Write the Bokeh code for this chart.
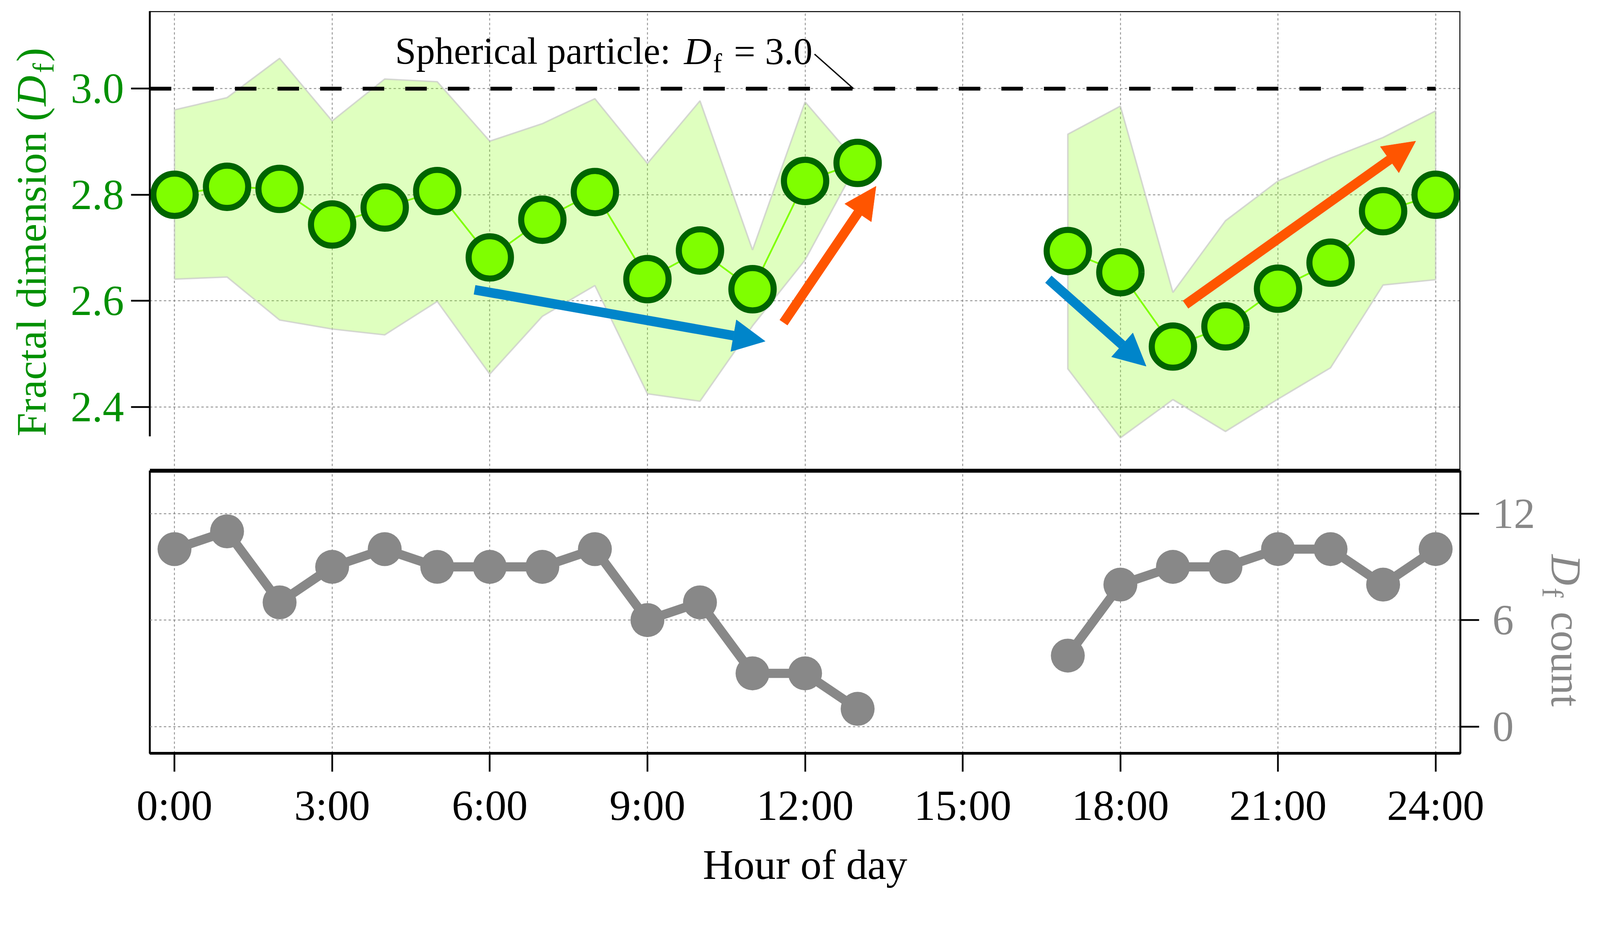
import math
from bokeh.plotting import figure
from bokeh.layouts import column, row
from bokeh.models import (FixedTicker, Grid, Span, Label, Arrow, NormalHead,
                          NumeralTickFormatter, Range1d)
from bokeh.embed import file_html
from bokeh.resources import INLINE

# ---------------- data ----------------
HOURS = [0, 1, 2, 3, 4, 5, 6, 7, 8, 9, 10, 11, 12, 13, 17, 18, 19, 20, 21, 22, 23, 24]
DF_MEAN = [2.800, 2.815, 2.811, 2.744, 2.776, 2.807, 2.682, 2.753, 2.805, 2.641, 2.695,
           2.622, 2.826, 2.860, 2.694, 2.654, 2.514, 2.552, 2.623, 2.672, 2.769, 2.800]
DF_UPPER = [2.960, 2.983, 3.057, 2.939, 3.018, 3.013, 2.901, 2.934, 2.981, 2.859, 2.977,
            2.696, 2.975, 2.860, 2.914, 2.967, 2.616, 2.751, 2.826, 2.869, 2.908, 2.958]
DF_LOWER = [2.641, 2.645, 2.564, 2.547, 2.536, 2.599, 2.462, 2.571, 2.629, 2.425, 2.411,
            2.553, 2.677, 2.860, 2.472, 2.342, 2.414, 2.354, 2.415, 2.474, 2.630, 2.640]
DF_COUNT = [10, 11, 7, 9, 10, 9, 9, 9, 10, 6, 7, 3, 3, 1, 4, 8, 9, 9, 10, 10, 8, 10]

X_TICKS = [0, 3, 6, 9, 12, 15, 18, 21, 24]
X_TICK_LABELS = ["0:00", "3:00", "6:00", "9:00", "12:00", "15:00", "18:00", "21:00", "24:00"]
DF_TICKS = [2.4, 2.6, 2.8, 3.0]
COUNT_TICKS = [0, 6, 12]
SPHERE_DF = 3.0

# trend arrows: (x_start, y_start, x_end, y_end, color)
TREND_ARROWS = [
    (5.71, 2.621, 11.24, 2.524, "#0085CA"),
    (11.59, 2.559, 13.35, 2.816, "#FF5500"),
    (16.63, 2.641, 18.49, 2.477, "#0085CA"),
    (19.24, 2.593, 23.62, 2.901, "#FF5500"),
]

# ---------------- style ----------------
S = 1 / 1.025          # pixel scale of the page


def I(v):
    return int(round(v * S))


def P(v):
    return v * S


def F(v):
    return f"{v * S:.1f}px"


FONT = "Liberation Serif"
GREEN_TXT = "#009000"
GRAY = "#888888"
LIME = "#7fff00"
DARKGREEN = "#006400"
X0, X1 = -0.47, 24.47
TOP_Y = (2.280, 3.146)
BOT_Y = (-1.504, 14.417)

LW_FIG, RW_FIG = I(166), I(158)          # side strips holding the rotated axis titles
BL, BR = I(227), I(206)
FW = I(3439)
TOP_BT, TOP_FH = I(29), I(1205)
BOT_FH, BOT_BB = I(741), I(381)
TOTAL_H = TOP_BT + TOP_FH + BOT_FH + BOT_BB
PX_PER_DF = TOP_FH / (TOP_Y[1] - TOP_Y[0])
RIGHT_STRIP_X = 8 + LW_FIG + BL + FW + BR   # page x of the right strip


def segments(hours):
    segs, cur = [], [0]
    for i in range(1, len(hours)):
        if hours[i] - hours[i - 1] > 1:
            segs.append(cur)
            cur = [i]
        else:
            cur.append(i)
    segs.append(cur)
    return segs


def add_grid(p, dim, ticks):
    p.add_layout(Grid(dimension=dim, ticker=FixedTicker(ticks=ticks),
                      grid_line_color="#808080", grid_line_width=P(2),
                      grid_line_dash="6 6"))


def strip(width):
    s = figure(width=width, height=TOTAL_H, min_border=0,
               x_range=Range1d(0, width), y_range=Range1d(TOTAL_H, 0),
               x_axis_location=None, y_axis_location=None,
               toolbar_location=None, output_backend="svg",
               background_fill_color="white", border_fill_color="white",
               outline_line_color=None)
    s.grid.visible = False
    return s


def desc(size_px):
    # baseline correction (descent of the font) in pixels
    return 0.216 * size_px


SEGS = segments(HOURS)

# ---------------- top panel ----------------
top = figure(frame_width=FW, frame_height=TOP_FH, min_border_left=BL, min_border_right=BR,
             min_border_top=TOP_BT, min_border_bottom=0,
             x_range=Range1d(X0, X1), y_range=Range1d(*TOP_Y),
             x_axis_location=None, y_axis_location="left",
             toolbar_location=None, output_backend="svg",
             background_fill_color="white", border_fill_color="white",
             outline_line_color=None)
top.grid.visible = False
add_grid(top, 0, X_TICKS)
add_grid(top, 1, DF_TICKS)

ya = top.yaxis[0]
ya.ticker = FixedTicker(ticks=DF_TICKS)
ya.formatter = NumeralTickFormatter(format="0.0")
ya.major_label_text_color = GREEN_TXT
ya.major_label_text_font = FONT
ya.major_label_text_font_size = F(112)
ya.major_label_standoff = I(18)
ya.major_tick_out = I(49)
ya.major_tick_in = 0
ya.major_tick_line_width = P(4.5)
ya.minor_tick_line_color = None
ya.axis_line_width = P(5)
ya.bounds = (2.345, TOP_Y[1])

top.add_layout(Span(location=TOP_Y[1], dimension="width", line_color="black", line_width=P(5)))
top.add_layout(Span(location=X1, dimension="height", line_color="black", line_width=P(5)))
top.add_layout(Span(location=TOP_Y[0], dimension="width", line_color="black", line_width=P(10)))

for seg in SEGS:
    xs = [HOURS[i] for i in seg]
    up = [DF_UPPER[i] for i in seg]
    lo = [DF_LOWER[i] for i in seg]
    top.patch(xs + xs[::-1], up + lo[::-1], fill_color=LIME, fill_alpha=0.25,
              line_color="#c8c8c8", line_alpha=0.7, line_width=P(4))

top.line([X0, max(HOURS)], [SPHERE_DF, SPHERE_DF], line_color="black",
         line_width=P(10), line_dash=f"{I(56)} {I(55)}")

for seg in SEGS:
    top.line([HOURS[i] for i in seg], [DF_MEAN[i] for i in seg],
             line_color=LIME, line_width=P(4.5))

top.scatter(HOURS, DF_MEAN, size=P(111), fill_color=LIME, line_color=DARKGREEN,
            line_width=P(16))

for xs_, ys_, xe_, ye_, c in TREND_ARROWS:
    top.add_layout(Arrow(end=NormalHead(size=P(84), fill_color=c, line_color=c, line_width=1),
                         x_start=xs_, y_start=ys_, x_end=xe_, y_end=ye_,
                         line_color=c, line_width=P(25)))

# annotation "Spherical particle: D_f = 3.0"
top.add_layout(Arrow(end=None, x_start=12.18, y_start=3.065, x_end=12.92, y_end=SPHERE_DF,
                     line_color="black", line_width=P(3.5)))
ann = dict(text_font=FONT, text_color="black", text_baseline="alphabetic", text_align="left")
BASE_Y = 3.0553
SUB_Y = 3.0374
top.add_layout(Label(x=4.199, y=BASE_Y + desc(P(99)) / PX_PER_DF, text="Spherical particle:",
                     text_font_size=F(99), **ann))
top.add_layout(Label(x=9.695, y=BASE_Y + desc(P(100)) / PX_PER_DF, text="D",
                     text_font_size=F(100), text_font_style="italic", **ann))
top.add_layout(Label(x=10.247, y=SUB_Y + desc(P(71)) / PX_PER_DF, text="f",
                     text_font_size=F(71), **ann))
top.add_layout(Label(x=10.645, y=BASE_Y + desc(P(100)) / PX_PER_DF, text="= 3.0",
                     text_font_size=F(100), **ann))

# ---------------- bottom panel ----------------
bot = figure(frame_width=FW, frame_height=BOT_FH, min_border_left=BL, min_border_right=BR,
             min_border_top=0, min_border_bottom=BOT_BB,
             x_range=top.x_range, y_range=Range1d(*BOT_Y),
             x_axis_location="below", y_axis_location="right",
             toolbar_location=None, output_backend="svg",
             background_fill_color="white", border_fill_color="white",
             outline_line_color="black", outline_line_width=P(5))
bot.grid.visible = False
add_grid(bot, 0, X_TICKS)
add_grid(bot, 1, COUNT_TICKS)
bot.add_layout(Span(location=BOT_Y[1], dimension="width", line_color="black", line_width=P(10)))

xa = bot.xaxis[0]
xa.ticker = FixedTicker(ticks=X_TICKS)
xa.major_label_overrides = {t: s for t, s in zip(X_TICKS, X_TICK_LABELS)}
xa.major_label_text_font = FONT
xa.major_label_text_font_size = F(112)
xa.major_label_text_color = "black"
xa.major_label_standoff = I(27)
xa.major_tick_out = I(48)
xa.major_tick_in = 0
xa.major_tick_line_width = P(4.5)
xa.minor_tick_line_color = None
xa.axis_line_width = P(7)
xa.axis_label = "Hour of day"
xa.axis_label_text_font = FONT
xa.axis_label_text_font_size = F(111)
xa.axis_label_text_font_style = "normal"
xa.axis_label_text_color = "black"
xa.axis_label_standoff = I(28)

ra = bot.yaxis[0]
ra.ticker = FixedTicker(ticks=COUNT_TICKS)
ra.major_label_text_font = FONT
ra.major_label_text_font_size = F(112)
ra.major_label_text_color = GRAY
ra.major_label_standoff = I(35)
ra.major_tick_out = I(49)
ra.major_tick_in = 0
ra.major_tick_line_width = P(4.5)
ra.minor_tick_line_color = None
ra.axis_line_width = P(5)

for seg in SEGS:
    bot.line([HOURS[i] for i in seg], [DF_COUNT[i] for i in seg],
             line_color=GRAY, line_width=P(24))
bot.scatter(HOURS, DF_COUNT, size=P(89), fill_color=GRAY, line_color=None)

# ---------------- side strips with rotated axis titles (pixel coordinates) ----------------
def lx(ref_x):
    return P(ref_x) - 8          # local x in the left strip


def ly(ref_y):
    return P(ref_y) - 8          # local y (from top) in the strips


def rx(ref_x):
    return P(ref_x) - RIGHT_STRIP_X


left = strip(LW_FIG)
lab = dict(text_font=FONT, text_color=GREEN_TXT, text_baseline="alphabetic",
           text_align="left", angle=math.pi / 2)
left.add_layout(Label(x=lx(114) - desc(P(111)), y=ly(1152), text="Fractal dimension (",
                      text_font_size=F(111), **lab))
left.add_layout(Label(x=lx(114) - desc(P(111)), y=ly(286), text="D", text_font_size=F(111),
                      text_font_style="italic", **lab))
left.add_layout(Label(x=lx(138) - desc(P(78)), y=ly(199), text="f", text_font_size=F(78), **lab))
left.add_layout(Label(x=lx(114) - desc(P(111)), y=ly(170), text=")", text_font_size=F(111), **lab))

right = strip(RW_FIG)
rlab = dict(text_font=FONT, text_color=GRAY, text_baseline="alphabetic",
            text_align="left", angle=-math.pi / 2)
right.add_layout(Label(x=rx(4092) + desc(P(112)), y=ly(1462), text="D", text_font_size=F(112),
                       text_font_style="italic", **rlab))
right.add_layout(Label(x=rx(4065) + desc(P(78)), y=ly(1549), text="f", text_font_size=F(78),
                       **rlab))
right.add_layout(Label(x=rx(4092) + desc(P(112)), y=ly(1612), text="count",
                       text_font_size=F(112), **rlab))

layout = row(left, column(top, bot), right)
open("out.html", "w").write(file_html(layout, INLINE))
